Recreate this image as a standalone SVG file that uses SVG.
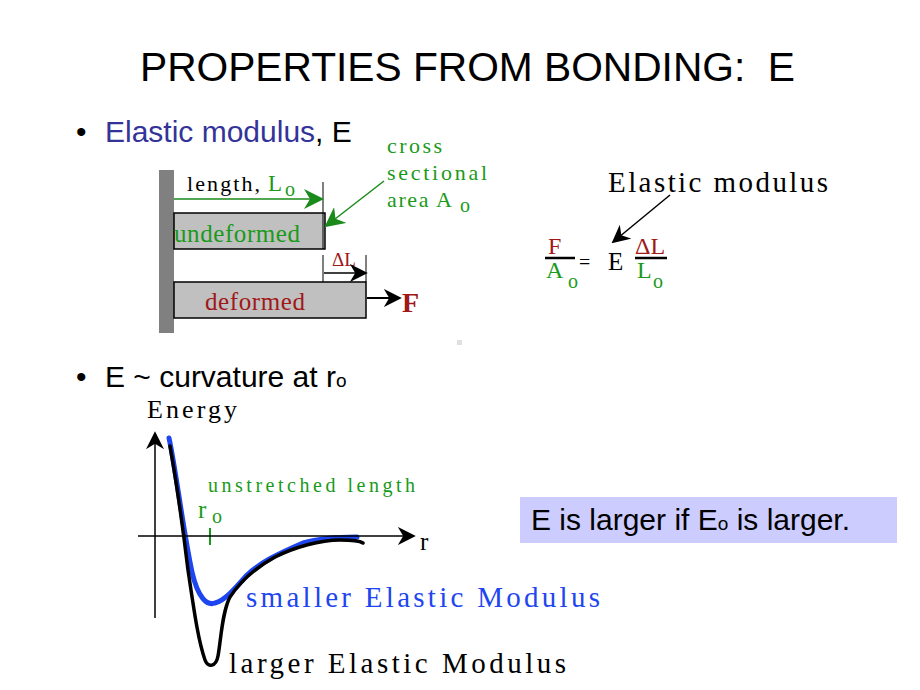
<svg xmlns="http://www.w3.org/2000/svg" width="920" height="690" viewBox="0 0 920 690">
<defs>
<style>
.sans{font-family:"Liberation Sans",Arial,sans-serif;}
.sm{font-family:"Liberation Serif","Times New Roman",serif;}
.green{fill:#1a9a1a;}
.red{fill:#a01818;}
.bar{fill:#c0c0c0;stroke:#000;stroke-width:1.5;}
</style>
<marker id="ag2" viewBox="0 0 10 10" refX="9" refY="5" markerWidth="20" markerHeight="20" orient="auto" markerUnits="userSpaceOnUse"><path d="M0,0 L10,5 L0,10 L3,5 z" fill="#1a8a1a"/></marker>
<marker id="ak" viewBox="0 0 10 10" refX="9" refY="5" markerWidth="18" markerHeight="18" orient="auto" markerUnits="userSpaceOnUse"><path d="M0,0 L10,5 L0,10 L3,5 z" fill="#000"/></marker>
</defs>
<rect width="920" height="690" fill="#fff"/>

<g id="title"><text x="140" y="81" class="sans" font-size="40" xml:space="preserve" textLength="655" lengthAdjust="spacingAndGlyphs">PROPERTIES FROM BONDING:  E</text></g>

<g id="bullet1"><text x="76" y="142" class="sans" font-size="30">•</text>
<text x="105" y="142" class="sans" font-size="30"><tspan fill="#333399">Elastic modulus</tspan><tspan fill="#000">, E</tspan></text></g>

<g id="bar-diagram">
<rect x="159" y="170" width="15" height="163" fill="#808080"/>
<rect id="undeformed" class="bar" x="174" y="213" width="151" height="36"/>
<text x="174" y="242" class="sm green" font-size="25" textLength="126">undeformed</text>
<rect id="deformed" class="bar" x="174" y="282" width="192" height="36"/>
<text x="205" y="310" class="sm red" font-size="25" textLength="100">deformed</text>
<text x="187" y="191" class="sm" font-size="22" textLength="73">length,</text>
<text x="268" y="191" class="sm green" font-size="23">L</text>
<text x="285" y="196" class="sm green" font-size="20">o</text>
<line x1="323" y1="182" x2="323" y2="249" stroke="#000" stroke-width="1"/>
<line x1="323" y1="255" x2="323" y2="282" stroke="#000" stroke-width="1"/>
<line x1="366" y1="255" x2="366" y2="282" stroke="#000" stroke-width="1"/>
<text x="332" y="266" class="sm red" font-size="19">ΔL</text>
<text x="387" y="153" class="sm green" font-size="22" textLength="55">cross</text>
<text x="387" y="180" class="sm green" font-size="22" textLength="100">sectional</text>
<text x="387" y="207" class="sm green" font-size="22" textLength="65">area A</text>
<text x="460" y="212" class="sm green" font-size="20">o</text>
<text x="402" y="312" class="sm red" font-size="28" font-weight="bold">F</text>
</g>

<g id="equation">
<text x="608" y="192" class="sm" font-size="29" textLength="220">Elastic modulus</text>
<line x1="545" y1="258" x2="575" y2="258" stroke="#000" stroke-width="2.5"/>
<text x="548" y="254" class="sm red" font-size="24">F</text>
<text x="546" y="278" class="sm green" font-size="24">A</text>
<text x="568" y="288" class="sm green" font-size="20">o</text>
<text x="579" y="269" class="sm" font-size="20">=</text>
<text x="608" y="270" class="sm" font-size="25">E</text>
<line x1="635" y1="258" x2="667" y2="258" stroke="#000" stroke-width="2.5"/>
<text x="635" y="254" class="sm red" font-size="24">ΔL</text>
<text x="637" y="278" class="sm green" font-size="24">L</text>
<text x="653" y="288" class="sm green" font-size="20">o</text>
</g>

<rect x="457" y="340" width="5" height="5" fill="#e0e0e0"/>

<g id="bullet2"><text x="76" y="387" class="sans" font-size="30">•</text>
<text x="105" y="387" class="sans" font-size="30">E ~ curvature at r<tspan font-size="19">o</tspan></text></g>

<g id="graph">
<text x="147" y="418" class="sm" font-size="26" textLength="90">Energy</text>
<text x="208" y="492" class="sm green" font-size="20" textLength="207">unstretched length</text>
<text x="198" y="518" class="sm green" font-size="25">r</text>
<text x="212" y="523" class="sm green" font-size="20">o</text>
<line x1="210" y1="528" x2="210" y2="545" stroke="#1a9a1a" stroke-width="2"/>
<text x="420" y="550" class="sm" font-size="25">r</text>
<path d="M169,438 C176,470 183,530 192,572 C198,598 207,606 215,603 C224,601 234,590 247,575 C260,563 275,555 303,543 C320,538 340,537 357,537" fill="none" stroke="#1e46f0" stroke-width="5" stroke-linecap="round"/>
<path d="M170,446 C176,480 182,520 188,570 C194,610 198,640 205,660 C208,668 216,667 218,656 C221,640 222,612 230,597 C240,582 255,568 275,557 C295,547 320,540 340,540 C352,540 360,541 363,543" fill="none" stroke="#000" stroke-width="3.5" stroke-linecap="round"/>
<text x="246" y="607" class="sm" font-size="29" textLength="354" fill="#1e46f0">smaller Elastic Modulus</text>
<text x="229" y="673" class="sm" font-size="29" textLength="337" fill="#000">larger Elastic Modulus</text>
</g>

<g id="connectors">
<line x1="174" y1="199" x2="322" y2="199" stroke="#1a8a1a" stroke-width="1.5" marker-end="url(#ag2)"/>
<line x1="384" y1="181" x2="326" y2="226" stroke="#1a8a1a" stroke-width="1.5" marker-end="url(#ag2)"/>
<line x1="324" y1="273" x2="366" y2="273" stroke="#000" stroke-width="1.5" marker-end="url(#ak)"/>
<line x1="367" y1="298" x2="400" y2="298" stroke="#000" stroke-width="2" marker-end="url(#ak)"/>
<line x1="670" y1="195" x2="613" y2="242" stroke="#000" stroke-width="1.5" marker-end="url(#ak)"/>
<line x1="155" y1="618" x2="155" y2="433" stroke="#000" stroke-width="1.5" marker-end="url(#ak)"/>
<line x1="138" y1="536" x2="414" y2="536" stroke="#000" stroke-width="1.5" marker-end="url(#ak)"/>
</g>

<g id="note">
<rect x="520" y="497" width="377" height="46" fill="#ccccff"/>
<text x="531" y="530" class="sans" font-size="30">E is larger if E<tspan font-size="19">o</tspan> is larger.</text>
</g>
</svg>
